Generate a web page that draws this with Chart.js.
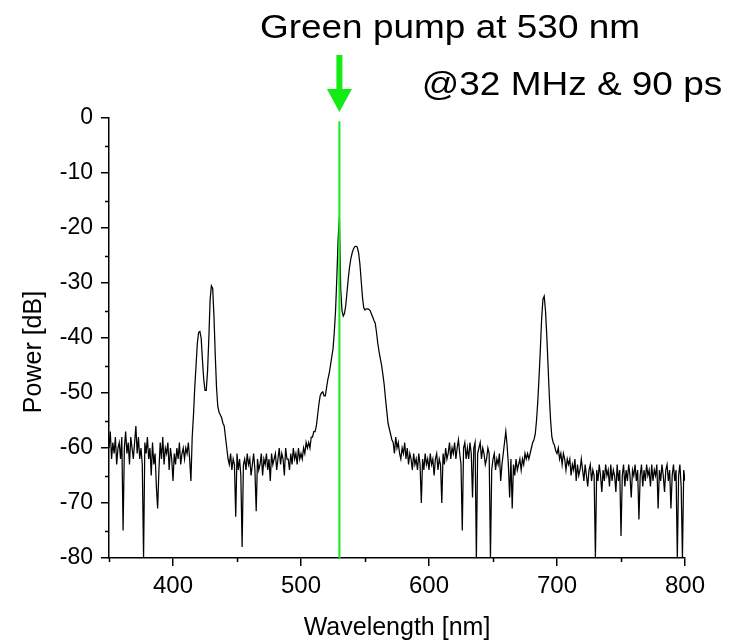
<!DOCTYPE html>
<html><head><meta charset="utf-8">
<script src="https://cdn.jsdelivr.net/npm/chart.js@4/dist/chart.umd.min.js"></script>
<style>html,body{margin:0;padding:0;background:#fff;}canvas{display:block;}</style>
</head><body>
<canvas id="c" width="736" height="642"></canvas>
<script>
// Measured spectrum, one value per nm from 350 nm to 800 nm (dB)
const power = [
 -60,-57,-62,-59,-61,-58,-63,-60,-59,-62,
 -58,-75,-60,-57,-61,-59,-63,-58,-60,-62,
 -59,-56,-61,-58,-62,-60,-63,-80,-59,-61,
 -58,-62,-60,-65,-59,-63,-61,-67,-71,-64,
 -59,-62,-58,-63,-60,-61,-59,-64,-60,-62,
 -66,-61,-63,-60,-62,-59,-63,-61,-60,-62,
 -60,-61,-59,-62,-66,-58,-54,-49,-45,-41,
 -39,-38.8,-40,-44,-47.5,-49.5,-49.5,-46,-40,-33,
 -30.5,-31,-36,-43,-49,-52.5,-53.5,-54,-54.5,-55.5,
 -56,-58,-60,-62,-63,-61,-64,-62,-63,-72.5,
 -61,-64,-62,-65,-78,-63,-62,-64,-61,-63,
 -62,-65,-63,-61,-64,-71.5,-62,-64,-63,-61,
 -65,-62,-63,-61,-64,-62,-66,-61,-63,-62,
 -61,-64,-62,-60,-63,-61,-62,-65,-60,-62,
 -62,-64,-61,-63,-60,-62,-61,-63,-60,-62,
 -61,-62,-60,-61,-59,-60,-59,-60,-58,-58,
 -57,-57,-56,-54,-52,-50.5,-50,-49.8,-50.5,-50.5,
 -49,-47.5,-46.5,-45,-43.5,-42,-39,-35,-29,-22,
 -18,-31,-35,-36,-35.5,-34,-31.5,-29,-27,-25.5,
 -24.5,-23.8,-23.4,-23.3,-23.5,-24.5,-26.5,-29.5,-32.5,-34.5,
 -34.9,-34.7,-34.7,-34.8,-35,-35.6,-36.2,-36.8,-37.3,-39,
 -41,-42.5,-43.8,-45,-46.7,-48.5,-51,-53.3,-55.5,-56.5,
 -57.5,-58.5,-59,-61,-58,-60,-59,-61,-62,-60,
 -61,-59,-62,-60,-63,-61,-62,-64,-61,-63,
 -62,-64,-61,-63,-70,-62,-64,-61,-63,-62,
 -64,-61,-63,-62,-65,-62,-61,-64,-62,-63,
 -70,-61,-63,-60,-62,-61,-59,-62,-60,-61,
 -59,-62,-60,-58.5,-61,-63,-75,-60,-59,-62,
 -60,-62,-59,-61,-69,-60,-59,-80,-61,-60,
 -59,-62,-60,-61,-63,-62,-60,-61,-80,-64,
 -62,-61,-64,-62,-63,-61,-66,-63,-61,-59,
 -57,-59.5,-63,-69,-62,-71,-63,-65,-62,-64,
 -63,-62,-64,-62,-63,-61,-62,-61,-62,-61,
 -60,-59,-58.5,-57.5,-55,-51.5,-47,-42,-36.5,-33,
 -32.4,-35,-39.5,-45,-50.5,-55,-58,-59,-59.5,-60.5,
 -61,-60,-62,-61,-63,-61,-62,-64,-62,-63,
 -62,-65,-63,-64,-62,-66,-63,-65,-64,-62,
 -64,-66,-63,-65,-67,-64,-63,-66,-64,-65,
 -80,-64,-66,-63,-65,-68,-64,-66,-63,-65,
 -64,-67,-63,-66,-64,-65,-68,-63,-66,-64,
 -76,-65,-63,-67,-64,-66,-63,-65,-69,-64,
 -65,-63,-66,-64,-73,-65,-63,-67,-64,-66,
 -63,-65,-64,-67,-63,-66,-64,-65,-63,-71,
 -64,-66,-63,-65,-68,-64,-63,-66,-64,-71,
 -65,-63,-66,-64,-80,-65,-63,-67,-80,-64,
 -66
];
const wavelengthStart = 350; // nm, sampling grid step 1 nm
const wavelengths = power.map((_, i) => wavelengthStart + i);

const xTickValues = [400, 500, 600, 700, 800];
const xMinorTicks = [350, 450, 550, 650, 750];
const yTickValues = [0, -10, -20, -30, -40, -50, -60, -70, -80];
const yMinorTicks = [-5, -15, -25, -35, -45, -55, -65, -75];

const pumpWavelength = 530;
const pumpLineLevels = [-0.6, -80];

const titleText = 'Green pump at 530 nm';
const subtitleText = '@32 MHz & 90 ps';
const xTitle = 'Wavelength [nm]';
const yTitle = 'Power [dB]';

const FONT = "'Liberation Sans', Arial, Helvetica, sans-serif";
const GREEN = '#14ea14';

const decor = {
  id: 'decor',
  afterDraw(chart) {
    const ctx = chart.ctx;
    const xs = chart.scales.x, ys = chart.scales.y;
    const area = chart.chartArea;
    ctx.save();
    ctx.strokeStyle = '#000';
    ctx.lineWidth = 1.5;
    ctx.beginPath();
    xMinorTicks.forEach(v => {
      const p = Math.round(xs.getPixelForValue(v)) + 0.5;
      ctx.moveTo(p, area.bottom); ctx.lineTo(p, area.bottom + 4);
    });
    yMinorTicks.forEach(v => {
      const p = Math.round(ys.getPixelForValue(v)) + 0.5;
      ctx.moveTo(area.left, p); ctx.lineTo(area.left - 4, p);
    });
    ctx.stroke();

    ctx.fillStyle = '#000';
    // x axis title
    ctx.font = '25px ' + FONT;
    ctx.textAlign = 'center';
    ctx.textBaseline = 'alphabetic';
    ctx.fillText(xTitle, (area.left + area.right) / 2, 635);
    // y axis title
    ctx.save();
    ctx.translate(41, 352);
    ctx.rotate(-Math.PI / 2);
    ctx.font = '25px ' + FONT;
    ctx.fillText(yTitle, 0, 0);
    ctx.restore();

    // titles (slightly wide lettering as in the figure)
    ctx.save();
    ctx.scale(1.12, 1);
    ctx.font = '33px ' + FONT;
    ctx.textAlign = 'center';
    ctx.fillText(titleText, 450 / 1.12, 38);
    ctx.fillText(subtitleText, 572 / 1.12, 95);
    ctx.restore();

    // green arrow pointing to the pump line
    const px = xs.getPixelForValue(pumpWavelength);
    ctx.fillStyle = GREEN;
    ctx.fillRect(px - 3, 55, 6, 36);
    ctx.beginPath();
    ctx.moveTo(px - 12.5, 89);
    ctx.lineTo(px + 12.5, 89);
    ctx.lineTo(px, 112);
    ctx.closePath();
    ctx.fill();
    ctx.restore();
  }
};

new Chart(document.getElementById('c'), {
  type: 'line',
  data: {
    datasets: [
      {
        data: pumpLineLevels.map(v => ({x: pumpWavelength, y: v})),
        borderColor: GREEN, borderWidth: 2, pointRadius: 0, order: 0
      },
      {
        data: wavelengths.map((w, i) => ({x: w, y: power[i]})),
        borderColor: '#000', borderWidth: 1.25, pointRadius: 0, tension: 0, order: 1
      }
    ]
  },
  options: {
    responsive: false,
    animation: false,
    layout: {padding: {left: 0, right: 51, top: 118, bottom: 0}},
    plugins: {legend: {display: false}, tooltip: {enabled: false}},
    scales: {
      x: {
        type: 'linear', min: 350, max: 800,
        afterBuildTicks: s => { s.ticks = xTickValues.map(v => ({value: v})); },
        afterFit: s => { s.height = 84; },
        grid: {display: true, drawOnChartArea: false, drawTicks: true, tickLength: 8, color: '#000', lineWidth: 1.5},
        border: {display: true, color: '#000', width: 1.5},
        ticks: {color: '#000', font: {family: FONT, size: 24}, padding: 6, maxRotation: 0, autoSkip: false}
      },
      y: {
        type: 'linear', min: -80, max: 0,
        afterBuildTicks: s => { s.ticks = yTickValues.map(v => ({value: v})); },
        afterFit: s => { s.width = 109; },
        grid: {display: true, drawOnChartArea: false, drawTicks: true, tickLength: 8, color: '#000', lineWidth: 1.5},
        border: {display: true, color: '#000', width: 1.5},
        ticks: {color: '#000', font: {family: FONT, size: 23}, padding: 8, autoSkip: false}
      }
    }
  },
  plugins: [decor]
});
</script>
</body></html>
